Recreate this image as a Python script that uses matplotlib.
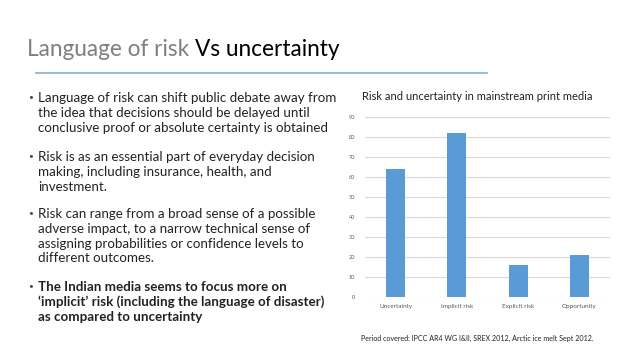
import matplotlib
matplotlib.use("Agg")
import matplotlib.pyplot as plt
from matplotlib.lines import Line2D

categories = ["Uncertainty", "Implicit risk", "Explicit risk", "Opportunity"]
values = [64, 82, 16, 21]
y_ticks = [0, 10, 20, 30, 40, 50, 60, 70, 80, 90]

title_grey = "Language of risk "
title_black = "Vs uncertainty"
chart_title = "Risk and uncertainty in mainstream print media"
footnote = "Period covered: IPCC AR4 WG I&II, SREX 2012, Arctic ice melt Sept 2012."

bullets = [
    ["Language of risk can shift public debate away from",
     "the idea that decisions should be delayed until",
     "conclusive proof or absolute certainty is obtained"],
    ["Risk is as an essential part of everyday decision",
     "making, including insurance, health, and",
     "investment."],
    ["Risk can range from a broad sense of a possible",
     "adverse impact, to a narrow technical sense of",
     "assigning probabilities or confidence levels to",
     "different outcomes."],
    ["The Indian media seems to focus more on",
     "\u2018implicit\u2019 risk (including the language of disaster)",
     "as compared to uncertainty"],
]
bullet_top = [98, 157, 214, 287]

W, H = 638, 359
plt.rcParams['font.family'] = ['Lato', 'DejaVu Sans']
fig = plt.figure(figsize=(W / 100, H / 100), dpi=100)
fig.patch.set_facecolor("white")


def fx(x):
    return x / W


def fy(y):
    return 1 - y / H


# slide title
t1 = fig.text(fx(27), fy(50), title_grey, fontsize=16.3, color="#7f7f7f",
              va="center", ha="left")
r = fig.canvas.get_renderer()
bb = t1.get_window_extent(renderer=r)
fig.text(bb.x1 / W, fy(50), title_black, fontsize=16.3, color="#000000",
         va="center", ha="left")
fig.add_artist(Line2D([fx(36), fx(487)], [fy(73), fy(73)], color="#7fb0d8",
                      lw=1.2, transform=fig.transFigure))

# bullets
for i, lines in enumerate(bullets):
    weight = "bold" if i == 3 else "normal"
    fig.text(fx(28), fy(bullet_top[i] - 1.5), "\u2022", fontsize=6, color="#444444",
             va="center", ha="left")
    for j, line in enumerate(lines):
        fig.text(fx(38), fy(bullet_top[i] + j * 14.8), line, fontsize=9.6,
                 color="#222222", va="center", ha="left", fontweight=weight)

# chart
ax = fig.add_axes([fx(365), fy(297), fx(610) - fx(365), (297 - 117) / H])
x = range(len(categories))
ax.bar(x, values, width=0.31, color="#5b9bd5", zorder=3)
ax.set_xlim(-0.5, len(categories) - 0.5)
ax.set_ylim(0, 90)
ax.set_yticks(y_ticks)
ax.set_yticklabels([str(v) for v in y_ticks], fontsize=4, color="#595959")
ax.set_xticks(list(x))
ax.set_xticklabels(categories, fontsize=4.6, color="#595959")
ax.tick_params(length=0, pad=5)
ax.tick_params(axis="y", pad=7)
ax.grid(axis="y", color="#d9d9d9", lw=0.8, zorder=0)
for s in ax.spines.values():
    s.set_visible(False)
ax.set_facecolor("white")

fig.text(fx(362), fy(97), chart_title, fontsize=8.0, color="#222222",
         va="center", ha="left")
fig.text(fx(361), fy(338), footnote, fontsize=5.1, color="#222222",
         va="center", ha="left")

fig.savefig("out.png", dpi=100)
